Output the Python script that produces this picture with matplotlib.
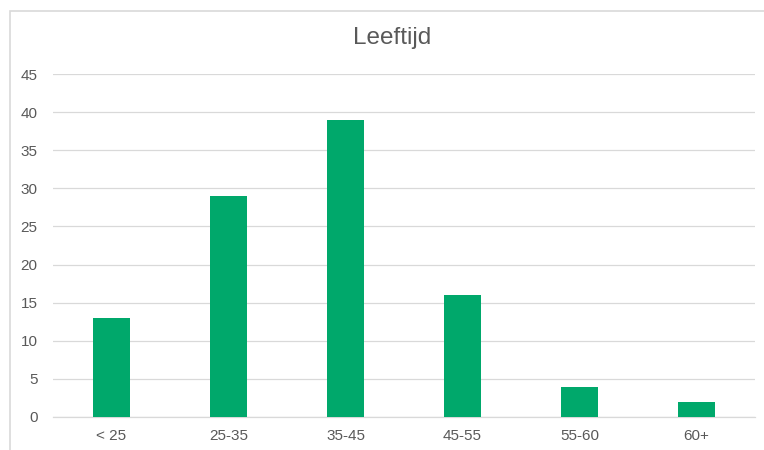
import matplotlib.pyplot as plt
import numpy as np
from matplotlib.patches import Rectangle

categories = ['< 25', '25-35', '35-45', '45-55', '55-60', '60+']
counts = [13, 29, 39, 16, 4, 2]
yticks = list(range(0, 50, 5))

text_color = '#595959'
grid_color = '#D9D9D9'
bar_color = '#00A86B'

plt.rcParams['font.family'] = ['Liberation Sans', 'DejaVu Sans']

fig = plt.figure(figsize=(7.64, 4.5), dpi=100)
ax = fig.add_axes([53 / 764, 1 - 417 / 450, (755 - 53) / 764, (417 - 74) / 450])

x = np.arange(len(categories))
ax.bar(x, counts, width=0.315, color=bar_color, zorder=3)

ax.set_xlim(-0.5, len(categories) - 0.5)
ax.set_ylim(0, 45)
ax.set_yticks(yticks)
ax.set_xticks(x)
ax.set_xticklabels(categories)
ax.grid(axis='y', color=grid_color, linewidth=0.9, zorder=0)
ax.tick_params(axis='both', length=0, labelsize=11, colors=text_color)
ax.tick_params(axis='y', pad=11)
ax.tick_params(axis='x', pad=9)
for side in ['top', 'right', 'left']:
    ax.spines[side].set_visible(False)
ax.spines['bottom'].set_color(grid_color)
ax.spines['bottom'].set_linewidth(0.9)

fig.text(392 / 764, 1 - 38 / 450, 'Leeftijd', ha='center', va='center',
         fontsize=17.5, color=text_color)

# outer chart frame (runs off the right and bottom edges)
fig.add_artist(Rectangle((10 / 764, -0.05), 1.0, 1 - 11 / 450 + 0.05,
                         transform=fig.transFigure, fill=False,
                         edgecolor=grid_color, linewidth=1.2))

fig.savefig('out.png', dpi=100)
